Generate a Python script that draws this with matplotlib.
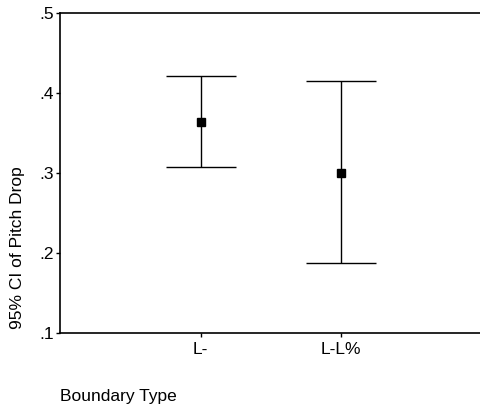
import matplotlib
matplotlib.use("Agg")
import matplotlib.pyplot as plt

plt.rcParams["font.family"] = ["Liberation Sans", "DejaVu Sans"]

# 경계 유형별 Pitch Drop 95% 신뢰구간
categories = ["L-", "L-L%"]
means = [0.364, 0.300]
ci_low = [0.307, 0.187]
ci_high = [0.421, 0.415]

W, H = 480, 409
fig = plt.figure(figsize=(W / 100, H / 100), dpi=100)
ax = fig.add_axes([60 / W, 1 - 333 / H, 1 - 60 / W + 0.004, 320 / H])

xs = list(range(1, len(categories) + 1))
err_lo = [m - lo for m, lo in zip(means, ci_low)]
err_hi = [hi - m for m, hi in zip(means, ci_high)]
ax.errorbar(xs, means, yerr=[err_lo, err_hi], fmt="s", color="black",
            ecolor="black", elinewidth=1, capsize=25.5, capthick=1,
            markersize=6)

ax.set_xlim(0, 3)
ax.set_ylim(0.1, 0.5)
ax.set_xticks(xs)
ax.set_xticklabels(categories)
yt = [0.1, 0.2, 0.3, 0.4, 0.5]
ax.set_yticks(yt)
ax.set_yticklabels([f"{v:.1f}".lstrip("0") for v in yt])
ax.tick_params(axis="both", labelsize=12.5, length=3, width=1)
ax.tick_params(axis="x", pad=3.5)
ax.tick_params(axis="y", pad=1.5)

ax.spines["right"].set_visible(False)
for s in ["left", "top", "bottom"]:
    ax.spines[s].set_linewidth(1.2)

fig.text(17.5 / W, 1 - 248 / H, "95% CI of Pitch Drop", rotation=90,
         ha="center", va="center", fontsize=12.5)
fig.text(60 / W, 1 - 396 / H, "Boundary Type", ha="left", va="center",
         fontsize=12.5)

fig.savefig("out.png", dpi=100)
